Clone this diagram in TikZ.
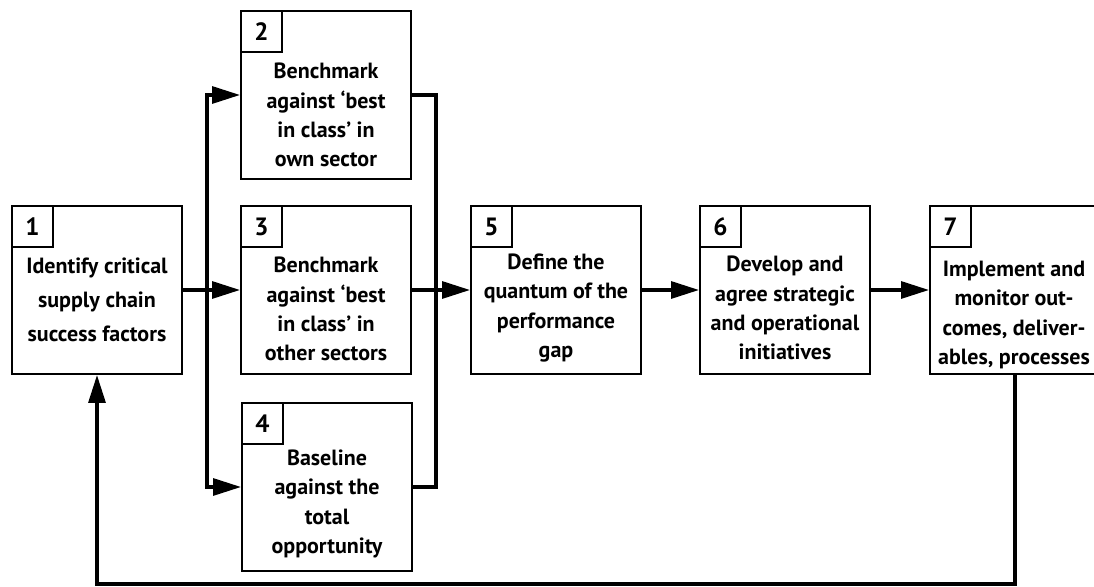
\documentclass[tikz,border=0pt]{standalone}
\usepackage{fontspec}
\setmainfont{PT Sans}
\usetikzlibrary{arrows.meta}
\begin{document}
\begin{tikzpicture}[x=0.5pt,y=-0.5pt,
  box/.style={draw,line width=1pt,minimum width=85pt,minimum height=84pt,inner sep=0pt},
  numbox/.style={draw,line width=1pt,minimum size=20.5pt,inner sep=0pt,anchor=north west,
    font=\fontsize{12.5}{14}\selectfont\bfseries},
  desc/.style={align=center,inner sep=0pt,font=\fontsize{11}{14.6}\selectfont\bfseries},
  link/.style={line width=1.6pt},
  flow/.style={link,-{Triangle[length=14pt,width=8.5pt]}}]
\useasboundingbox (0,0) rectangle (1094,587);
\clip (0,0) rectangle (1094,587);

% process boxes
\node[box] (b1) at (97,290) {};
\node[box] (b2) at (326,95) {};
\node[box] (b3) at (326,290) {};
\node[box] (b4) at (327,487) {};
\node[box] (b5) at (556,290) {};
\node[box] (b6) at (785,290) {};
\node[box] (b7) at (1015,290) {};

% step numbers
\node[numbox] (n1) at (b1.north west) {1};
\node[numbox] (n2) at (b2.north west) {2};
\node[numbox] (n3) at (b3.north west) {3};
\node[numbox] (n4) at (b4.north west) {4};
\node[numbox] (n5) at (b5.north west) {5};
\node[numbox] (n6) at (b6.north west) {6};
\node[numbox] (n7) at (b7.north west) {7};

% step descriptions
\node[desc,font=\fontsize{11}{17}\selectfont\bfseries] (t1) at (97,300)
  {Identify critical\\supply chain\\success factors};
\node[desc] (t2) at (326,115) {Benchmark\\against ‘best\\in class’ in\\own sector};
\node[desc] (t3) at (326,309) {Benchmark\\against ‘best\\in class’ in\\other sectors};
\node[desc] (t4) at (327,504) {Baseline\\against the\\total\\opportunity};
\node[desc] (t5) at (556,308) {Define the\\quantum of the\\performance\\gap};
\node[desc] (t6) at (785,308) {Develop and\\agree strategic\\and operational\\initiatives};
\node[desc] (t7) at (1014,315) {Implement and\\monitor out-\\comes, deliver-\\ables, processes};

% connectors
\coordinate (split) at (207,290);
\coordinate (merge) at (436,290);
\coordinate (fb) at (0,584);

\draw[flow] (b1.east) -- (b3.west);
\draw[flow] (split) |- (b2.west);
\draw[flow] (split) |- (b4.west);
\draw[link] (b2.east) -| (merge) |- (b4.east);
\draw[flow] (b3.east) -- (b5.west);
\draw[flow] (b5.east) -- (b6.west);
\draw[flow] (b6.east) -- (b7.west);
\draw[flow] (b7.south) -- (b7.south |- fb) -| (b1.south);
\end{tikzpicture}
\end{document}
